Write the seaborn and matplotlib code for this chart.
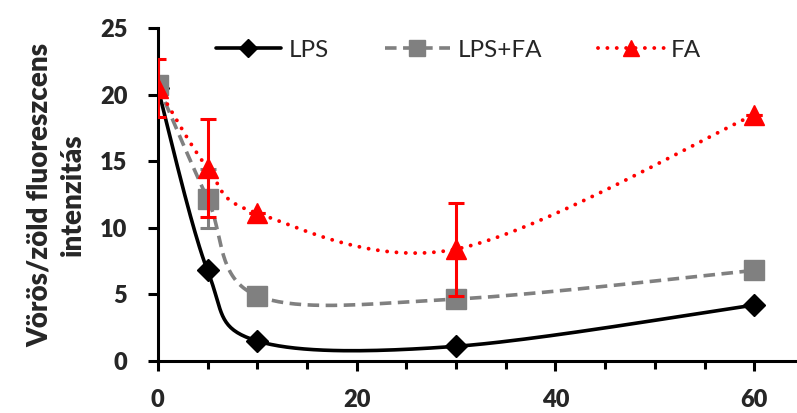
import numpy as np
import pandas as pd
import matplotlib
matplotlib.use("Agg")
import matplotlib.pyplot as plt
import seaborn as sns
from matplotlib.lines import Line2D

ido = [0, 5, 10, 30, 60]
lps = [20.5, 6.8, 1.5, 1.1, 4.2]
lps_fa = [20.7, 12.2, 4.9, 4.65, 6.8]
fa = [20.5, 14.5, 11.1, 8.4, 18.5]
lps_fa_err = [0, 2.2, 0, 0, 0]
fa_err = [2.15, 3.7, 0, 3.5, 0]
sorozatok = ["LPS", "LPS+FA", "FA"]


def smooth(xs, ys, n=40):
    # Excel-style smoothed line (Bezier, Catmull-Rom control points)
    pts = np.column_stack([xs, ys]).astype(float)
    out = []
    for i in range(len(pts) - 1):
        p0 = pts[max(i - 1, 0)]
        p1 = pts[i]
        p2 = pts[i + 1]
        p3 = pts[min(i + 2, len(pts) - 1)]
        c1 = p1 + (p2 - p0) / 6
        c2 = p2 - (p3 - p1) / 6
        t = np.linspace(0, 1, n)[:, None]
        seg = (1 - t) ** 3 * p1 + 3 * (1 - t) ** 2 * t * c1 + 3 * (1 - t) * t ** 2 * c2 + t ** 3 * p2
        out.append(seg if i == 0 else seg[1:])
    return np.vstack(out)


sns.set_style("ticks")
plt.rcParams["font.family"] = ["Lato", "DejaVu Sans"]

fig = plt.figure(figsize=(7.97, 4.13), dpi=100)
ax = fig.add_axes([0.198, 0.126, 0.802, 0.806])

stilus = {
    "LPS": dict(color="black", ls="-", lw=2.6, marker="D", ms=11, mfc="black", mec="black"),
    "LPS+FA": dict(color="#808080", ls=(0, (3.2, 1.8)), lw=2.6, marker="s", ms=15, mfc="#808080", mec="#808080"),
    "FA": dict(color="red", ls=(0, (0.01, 2.4)), lw=2.8, marker="^", ms=15, mfc="red", mec="red"),
}
ertekek = {"LPS": lps, "LPS+FA": lps_fa, "FA": fa}

# error bars
ax.errorbar(ido, lps_fa, yerr=lps_fa_err, fmt="none", ecolor="#808080", elinewidth=2.2, capsize=6, capthick=2.2, zorder=2)
ax.errorbar(ido, fa, yerr=fa_err, fmt="none", ecolor="red", elinewidth=2.2, capsize=6, capthick=2.2, zorder=4)

z = {"LPS": 3, "LPS+FA": 3.5, "FA": 5}
for nev in sorozatok:
    s = stilus[nev]
    g = smooth(ido, ertekek[nev])
    df_g = pd.DataFrame({"x": g[:, 0], "y": g[:, 1]})
    sns.lineplot(data=df_g, x="x", y="y", sort=False, estimator=None, ax=ax,
                 color=s["color"], linestyle=s["ls"], linewidth=s["lw"],
                 dash_capstyle="round" if nev == "FA" else "butt", zorder=z[nev])
    df_p = pd.DataFrame({"x": ido, "y": ertekek[nev]})
    ax.plot(df_p["x"], df_p["y"], ls="none", marker=s["marker"], ms=s["ms"],
            mfc=s["mfc"], mec=s["mec"], zorder=z[nev] + 0.1)

handles = []
for nev in sorozatok:
    s = stilus[nev]
    handles.append(Line2D([], [], color=s["color"], linestyle=s["ls"], linewidth=s["lw"],
                          marker=s["marker"], ms=s["ms"] * 0.8, mfc=s["mfc"], mec=s["mec"],
                          dash_capstyle="round" if nev == "FA" else "butt"))
ax.legend(handles, sorozatok, ncol=3, frameon=False, loc="upper center",
          bbox_to_anchor=(0.47, 1.03), fontsize=17.5, handlelength=2.7, columnspacing=2.3,
          handletextpad=0.3)

ax.set_xlim(0, 64.3)
ax.set_ylim(0, 25)
ax.set_xticks([0, 20, 40, 60])
ax.set_xticks(np.arange(0, 65, 5), minor=True)
ax.set_yticks(np.arange(0, 26, 5))
sns.despine(ax=ax)
for sp in ["left", "bottom"]:
    ax.spines[sp].set_linewidth(2.2)
    ax.spines[sp].set_color("black")
ax.tick_params(axis="both", which="major", width=2.2, length=7, labelsize=17, color="black")
ax.tick_params(axis="y", which="major", pad=15)
ax.tick_params(axis="x", which="minor", width=2.2, length=6, color="black")
ax.tick_params(axis="x", which="major", pad=13)
for lab in ax.get_xticklabels() + ax.get_yticklabels():
    lab.set_fontweight("heavy")
ax.set_xlabel("")
ax.set_ylabel("Vörös/zöld fluoreszcens\nintenzitás", fontsize=20, fontweight="heavy", labelpad=10, linespacing=1.35)

fig.savefig("out.png", dpi=100)
